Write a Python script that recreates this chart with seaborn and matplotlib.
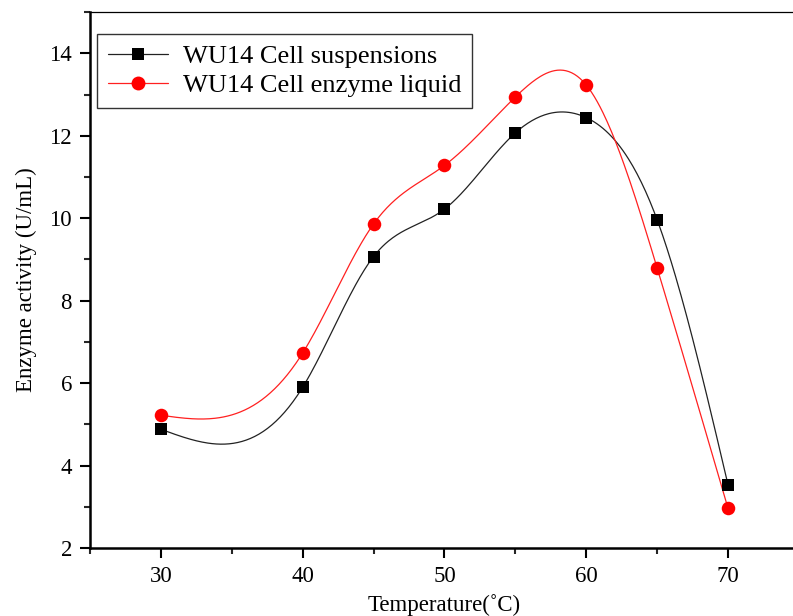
import numpy as np
import pandas as pd
import matplotlib
matplotlib.use("Agg")
import matplotlib.pyplot as plt
from matplotlib.lines import Line2D
from matplotlib.ticker import MultipleLocator
import seaborn as sns

# data
temperature = [30, 40, 45, 50, 55, 60, 65, 70]
cell_suspension = [4.88, 5.90, 9.07, 10.22, 12.07, 12.44, 9.96, 3.53]
enzyme_liquid = [5.22, 6.73, 9.86, 11.28, 12.94, 13.23, 8.79, 2.96]

series_names = ["WU14 Cell suspensions", "WU14 Cell enzyme liquid"]


def natural_spline(x, y, xs):
    """Natural cubic spline through the points (Origin style 'Spline' connect)."""
    x = np.asarray(x, float)
    y = np.asarray(y, float)
    n = len(x)
    h = np.diff(x)
    A = np.zeros((n, n))
    b = np.zeros(n)
    A[0, 0] = A[-1, -1] = 1
    for i in range(1, n - 1):
        A[i, i - 1] = h[i - 1]
        A[i, i] = 2 * (h[i - 1] + h[i])
        A[i, i + 1] = h[i]
        b[i] = 3 * ((y[i + 1] - y[i]) / h[i] - (y[i] - y[i - 1]) / h[i - 1])
    c = np.linalg.solve(A, b)
    bb = (y[1:] - y[:-1]) / h - h * (2 * c[:-1] + c[1:]) / 3
    d = (c[1:] - c[:-1]) / (3 * h)
    idx = np.clip(np.searchsorted(x, xs) - 1, 0, n - 2)
    dx = xs - x[idx]
    return y[idx] + bb[idx] * dx + c[idx] * dx ** 2 + d[idx] * dx ** 3


sns.set_style("ticks")
plt.rcParams["font.family"] = ["Liberation Serif", "DejaVu Serif"]

fig = plt.figure(figsize=(7.93, 6.16), dpi=100)
ax = fig.add_axes([0.1135, 0.1104, 0.894, 0.870])

xs = np.linspace(30, 70, 400)
pts = pd.DataFrame({"T": temperature, "a": cell_suspension, "b": enzyme_liquid})
smooth = pd.DataFrame({"T": xs,
                       "a": natural_spline(temperature, cell_suspension, xs),
                       "b": natural_spline(temperature, enzyme_liquid, xs)})

sns.lineplot(data=smooth, x="T", y="a", color="#222222", linewidth=0.9, ax=ax)
sns.lineplot(data=smooth, x="T", y="b", color="#ff2020", linewidth=0.9, ax=ax)
sns.scatterplot(data=pts, x="T", y="a", marker="s", s=80, color="black",
                edgecolor="black", linewidth=0, ax=ax, zorder=3)
sns.scatterplot(data=pts, x="T", y="b", marker="o", s=95, color="red",
                edgecolor="red", linewidth=0, ax=ax, zorder=3)

ax.set_xlim(25, 75)
ax.set_ylim(2, 15)
ax.xaxis.set_minor_locator(MultipleLocator(5))
ax.set_xticks([30, 40, 50, 60, 70])
ax.yaxis.set_major_locator(MultipleLocator(2))
ax.yaxis.set_minor_locator(MultipleLocator(1))
ax.tick_params(which="major", direction="out", length=7, width=1.5,
               labelsize=16.5, pad=6, colors="black")
ax.tick_params(which="minor", direction="out", length=4, width=1.5)

for side in ["left", "bottom"]:
    ax.spines[side].set_linewidth(1.8)
    ax.spines[side].set_color("black")
for side in ["top", "right"]:
    ax.spines[side].set_visible(True)
    ax.spines[side].set_linewidth(0.9)
    ax.spines[side].set_color("black")

ax.set_xlabel("Temperature(˚C)", fontsize=16.5, labelpad=5, color="black")
ax.set_ylabel("Enzyme activity (U/mL)", fontsize=16.5, labelpad=9, color="black")

handles = [
    Line2D([], [], color="#222222", linewidth=0.9, marker="s", markersize=9,
           markerfacecolor="black", markeredgewidth=0),
    Line2D([], [], color="#ff2020", linewidth=0.9, marker="o", markersize=10,
           markerfacecolor="red", markeredgewidth=0),
]
leg = ax.legend(handles, series_names, loc="upper left",
                bbox_to_anchor=(0.0099, 0.959), fontsize=19, frameon=True,
                fancybox=False, edgecolor="#333333", handlelength=2.3,
                borderaxespad=0, borderpad=0.4, labelspacing=0.22,
                handletextpad=0.55, framealpha=1)
leg.get_frame().set_linewidth(1.0)
for t in leg.get_texts():
    t.set_color("black")

fig.savefig("out.png", dpi=100)
